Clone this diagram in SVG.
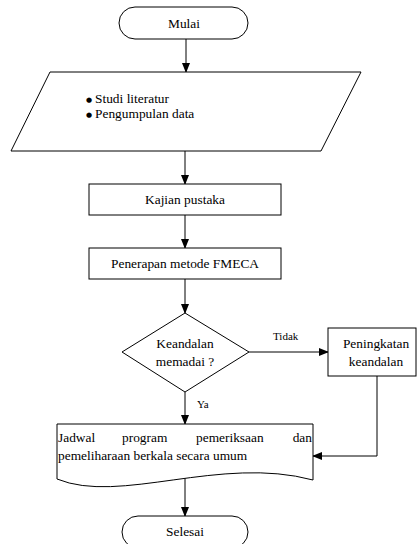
<svg xmlns="http://www.w3.org/2000/svg" width="417" height="544" viewBox="0 0 417 544">
<defs>
<marker id="ah" markerWidth="10" markerHeight="8" refX="9" refY="4" orient="auto" markerUnits="userSpaceOnUse">
<path d="M0,0 L10,4 L0,8 Z" fill="#000"/>
</marker>
<style>
.s{fill:#fff;stroke:#000;stroke-width:1}
.t{font-size:13.4px;fill:#000}
.c{text-anchor:middle}
.l{font-size:11px;fill:#000}
.e{fill:none;stroke:#000;stroke-width:1;marker-end:url(#ah)}
</style>
</defs>
<rect width="417" height="544" fill="#fff"/>
<g font-family="'Liberation Serif', 'Times New Roman', 'DejaVu Serif', serif">
<g id="connectors">
<line class="e" x1="186" y1="39" x2="186" y2="72"/>
<line class="e" x1="185" y1="151" x2="185" y2="184"/>
<line class="e" x1="185" y1="215" x2="185" y2="248"/>
<line class="e" x1="185" y1="279" x2="185" y2="313"/>
<line class="e" x1="249" y1="352" x2="328" y2="352"/>
<line class="e" x1="185" y1="392" x2="185" y2="424"/>
<polyline class="e" points="377,376 377,456 313,456"/>
<line class="e" x1="185" y1="478" x2="185" y2="516"/>
<text class="l" x="273" y="340">Tidak</text>
<text class="l" x="197" y="408">Ya</text>
</g>
<g id="mulai">
<rect class="s" x="119" y="7" width="129" height="32" rx="16" ry="16"/>
<text class="t c" x="184" y="28">Mulai</text>
</g>
<g id="input">
<polygon class="s" points="50,72 361,72 321,151 11,151"/>
<text x="86" y="102" font-family="'DejaVu Sans', sans-serif" font-size="7">●</text>
<text class="t" x="95" y="103">Studi literatur</text>
<text x="86" y="117" font-family="'DejaVu Sans', sans-serif" font-size="7">●</text>
<text class="t" x="95" y="118">Pengumpulan data</text>
</g>
<g id="kajian">
<rect class="s" x="89" y="184" width="192" height="31"/>
<text class="t c" x="185" y="204">Kajian pustaka</text>
</g>
<g id="penerapan">
<rect class="s" x="89" y="248" width="192" height="31"/>
<text class="t c" x="185" y="268">Penerapan metode FMECA</text>
</g>
<g id="keputusan">
<polygon class="s" points="185,313 249,352 185,392 122,352"/>
<text class="t c" x="185" y="348">Keandalan</text>
<text class="t c" x="185" y="366">memadai ?</text>
</g>
<g id="peningkatan">
<rect class="s" x="328" y="328" width="88" height="48"/>
<text class="t c" x="376" y="348">Peningkatan</text>
<text class="t c" x="376" y="366">keandalan</text>
</g>
<g id="jadwal">
<path class="s" d="M57,424 L313,424 L313,480 C220,455 120,505 57,479 Z"/>
<text class="t" x="58" y="442">Jadwal</text>
<text class="t" x="122" y="442">program</text>
<text class="t" x="196" y="442">pemeriksaan</text>
<text class="t" x="312" y="442" text-anchor="end">dan</text>
<text class="t" x="58" y="460">pemeliharaan berkala secara umum</text>
</g>
<g id="selesai">
<rect class="s" x="122" y="516" width="126" height="32" rx="16" ry="16"/>
<text class="t c" x="185" y="536">Selesai</text>
</g>
</g>
</svg>
